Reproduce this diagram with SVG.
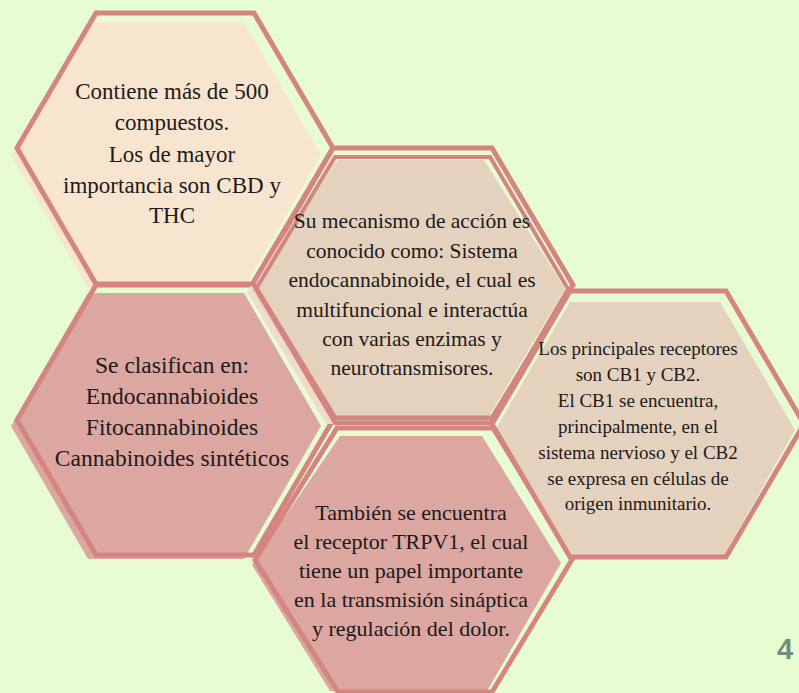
<svg xmlns="http://www.w3.org/2000/svg" width="799" height="693" viewBox="0 0 799 693">
<style>
.ol{fill:none;stroke:#d4857f;stroke-width:5;stroke-linejoin:miter}
.ol2{fill:none;stroke:#d4857f;stroke-width:4;stroke-linejoin:miter}
.peach{fill:#f8e5d0}
.tan{fill:#e4d2bf}
.tanl{fill:#efdccb}
.rose{fill:#dca6a1}
.t{font-family:"Liberation Serif","Times New Roman",serif;fill:#1d1a19;text-anchor:middle}
.num{font-family:"Liberation Sans",Arial,sans-serif;font-weight:bold;font-size:29px;fill:#6a8f7e;text-anchor:middle}
</style>
<rect width="799" height="693" fill="#e8fcd2"/>
<g id="hex1">
<polygon class="peach" points="88,22 244,22 321,155 244,288 88,288 11,155"/>
<polygon class="ol" points="96,13 254,13 333,148 254,284 96,284 17,148"/>
<text class="t" font-size="23" x="172"><tspan x="172" y="99">Contiene más de 500</tspan><tspan x="172" y="130">compuestos.</tspan><tspan x="172" y="162">Los de mayor</tspan><tspan x="172" y="193">importancia son CBD y</tspan><tspan x="172" y="223">THC</tspan></text>
</g>
<g id="hex3">
<polygon class="rose" points="88,293 244,293 321,426 244,559 88,559 11,426"/>
<polygon class="ol" points="96,285 254,285 333,420 254,555 96,555 17,420"/>
<text class="t" font-size="23.5"><tspan x="172" y="373">Se clasifican en:</tspan><tspan x="172" y="404">Endocannabioides</tspan><tspan x="172" y="435">Fitocannabinoides</tspan><tspan x="172" y="466">Cannabinoides sintéticos</tspan></text>
</g>
<g id="hex2">
<polygon class="tanl" points="334,162 484,162 563,292 484,424 326,424 247,292"/>
<polygon class="tan" points="338,160 484,160 565,289 486,421 332,421 252,290"/>
<polygon class="ol2" points="335,157 490,157 568,289 490,423 335,423 256,289"/>
<polygon class="ol" points="333,148 492,148 573,285 492,418 335,418 253,283"/>
<text class="t" font-size="21.5"><tspan x="412" y="228">Su mecanismo de acción es</tspan><tspan x="412" y="258">conocido como: Sistema</tspan><tspan x="412" y="287">endocannabinoide, el cual es</tspan><tspan x="412" y="317">multifuncional e interactúa</tspan><tspan x="412" y="346">con varias enzimas y</tspan><tspan x="412" y="375">neurotransmisores.</tspan></text>
</g>
<g id="hex5">
<polygon class="rose" points="340,436 482,436 561,563 487,691 330,691 252,565"/>
<polygon class="ol" points="337,428 493,428 573,558 492,692 338,692 255,560"/>
<text class="t" font-size="22"><tspan x="411" y="520">También se encuentra</tspan><tspan x="411" y="549">el receptor TRPV1, el cual</tspan><tspan x="411" y="578">tiene un papel importante</tspan><tspan x="411" y="607">en la transmisión sináptica</tspan><tspan x="411" y="636">y regulación del dolor.</tspan></text>
</g>
<g id="hex4">
<polygon class="tan" points="570,302 720,302 795,430 722,559 570,559 495,430"/>
<polygon class="ol" points="570,291 726,291 804,424 726,557 570,557 492,424"/>
<text class="t" font-size="19"><tspan x="638" y="355">Los principales receptores</tspan><tspan x="638" y="381">son CB1 y CB2.</tspan><tspan x="638" y="407">El CB1 se encuentra,</tspan><tspan x="638" y="433">principalmente, en el</tspan><tspan x="638" y="459">sistema nervioso y el CB2</tspan><tspan x="638" y="485">se expresa en células de</tspan><tspan x="638" y="510">origen inmunitario.</tspan></text>
</g>
<g id="page-number">
<text class="num" x="785" y="659">4</text>
</g>
</svg>
